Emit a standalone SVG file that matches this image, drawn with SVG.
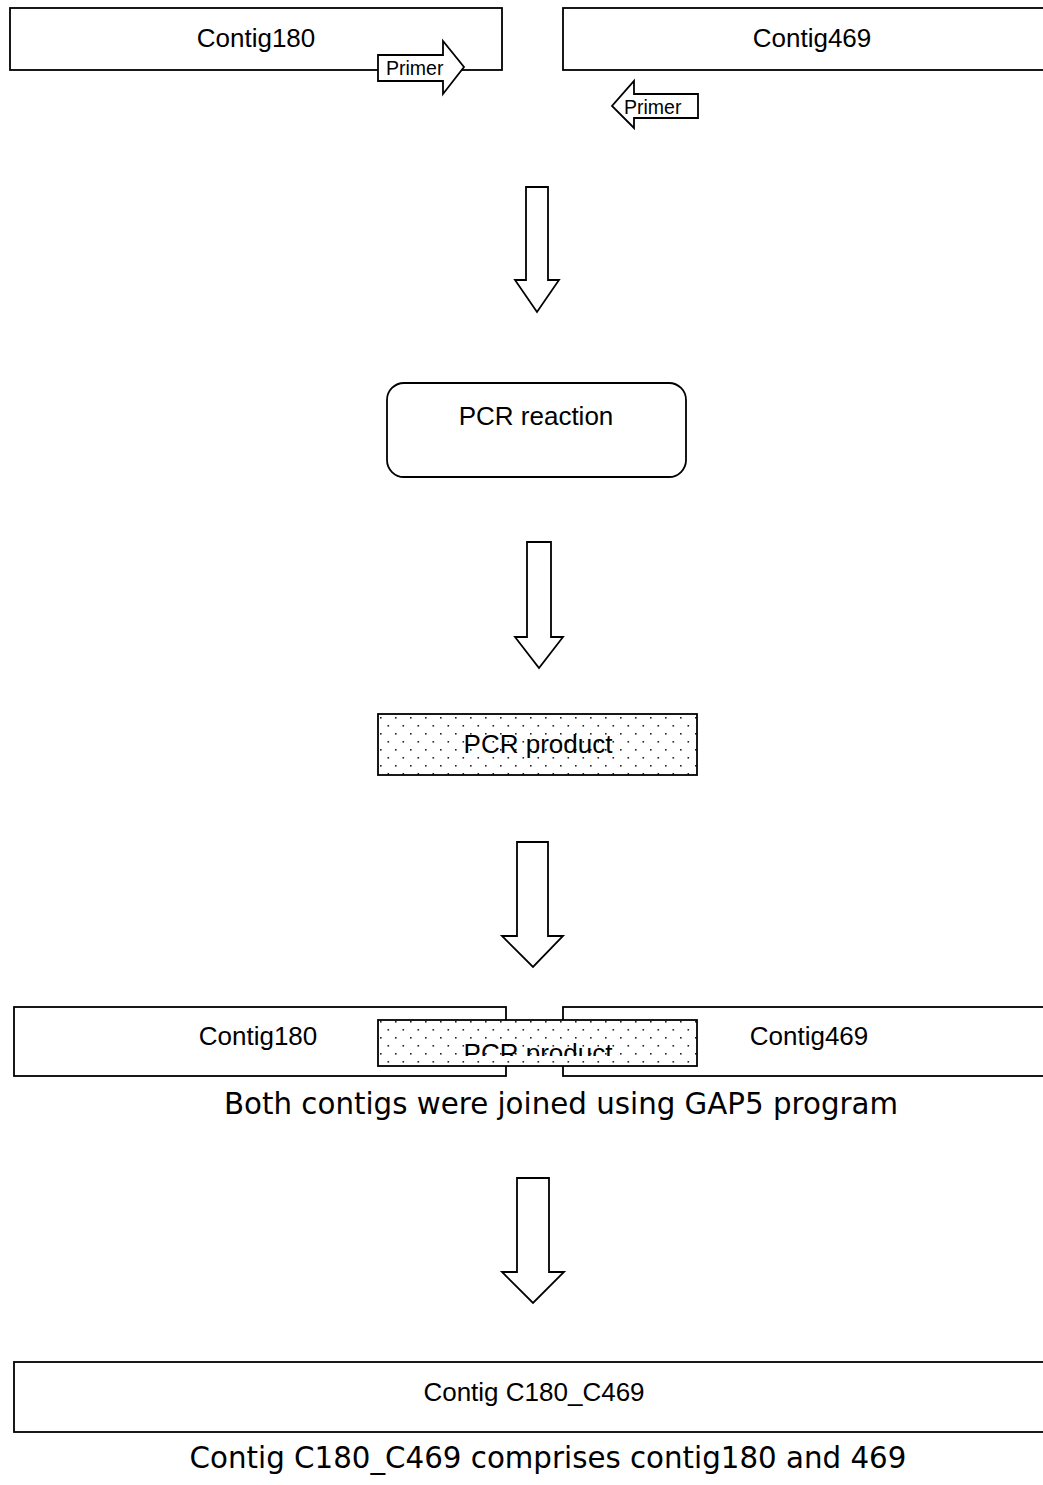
<svg xmlns="http://www.w3.org/2000/svg" width="1043" height="1485" viewBox="0 0 1043 1485">
<style>
.box{fill:#fff;stroke:#000;stroke-width:1.8}
.dot{fill:url(#dots);stroke:#000;stroke-width:1.8}
.arr{fill:#fff;stroke:#000;stroke-width:1.8;stroke-linejoin:miter}
.t{font-family:"Liberation Sans",Arial,sans-serif;font-size:26px;fill:#000;text-anchor:middle}
.s{font-family:"Liberation Sans",Arial,sans-serif;font-size:19.5px;fill:#000}
.v{font-family:"DejaVu Sans",Verdana,sans-serif;font-size:29.3px;fill:#000;text-anchor:middle}
</style>
<defs>
<pattern id="dots" x="378" y="714" width="15" height="16" patternUnits="userSpaceOnUse">
<rect width="15" height="16" fill="#fff"/>
<rect x="2" y="3" width="1.6" height="1.6" fill="#222"/>
<rect x="9.5" y="11" width="1.6" height="1.6" fill="#222"/>
</pattern>
<clipPath id="clipMid"><rect x="378" y="1020" width="320" height="36"/></clipPath>
</defs>

<g id="contig180-top">
<rect class="box" x="10" y="8" width="492" height="62"/>
<text class="t" x="256" y="47">Contig180</text>
</g>
<g id="primer-forward">
<polygon class="arr" points="378,55 443,55 443,41 464,67 443,94 443,81 378,81"/>
<text class="s" x="386" y="75">Primer</text>
</g>
<g id="contig469-top">
<rect class="box" x="563" y="8" width="482" height="62"/>
<text class="t" x="812" y="47">Contig469</text>
</g>
<g id="primer-reverse">
<polygon class="arr" points="698,94 634,94 634,81 612,106 634,128 634,118 698,118"/>
<text class="s" x="624" y="114">Primer</text>
</g>

<g id="pcr-reaction">
<rect class="box" x="387" y="383" width="299" height="94" rx="17" ry="17"/>
<text class="t" x="536" y="425">PCR reaction</text>
</g>

<g id="pcr-product">
<rect class="dot" x="378" y="714" width="319" height="61"/>
<text class="t" x="538" y="753">PCR product</text>
</g>

<g id="joined">
<rect class="box" x="14" y="1007" width="492" height="69"/>
<rect class="box" x="563" y="1007" width="482" height="69"/>
<text class="t" x="258" y="1045">Contig180</text>
<text class="t" x="809" y="1045">Contig469</text>
<rect class="dot" x="378" y="1020" width="319" height="46"/>
<text class="t" x="538" y="1062" clip-path="url(#clipMid)">PCR product</text>
</g>
<g id="caption-joined">
<text class="v" x="561" y="1114">Both contigs were joined using GAP5 program</text>
</g>

<g id="contig-final">
<rect class="box" x="14" y="1362" width="1031" height="70"/>
<text class="t" x="534" y="1401">Contig C180_C469</text>
</g>
<g id="caption-final">
<text class="v" x="548" y="1468">Contig C180_C469 comprises contig180 and 469</text>
</g>

<g id="connectors">
<polygon class="arr" points="526,187 548,187 548,280 559,280 537,312 515,280 526,280"/>
<polygon class="arr" points="527,542 551,542 551,637 563,637 539,668 515,637 527,637"/>
<polygon class="arr" points="517,842 548,842 548,936 563,936 533,967 502,936 517,936"/>
<polygon class="arr" points="517,1178 549,1178 549,1272 564,1272 533,1303 502,1272 517,1272"/>
</g>
</svg>
